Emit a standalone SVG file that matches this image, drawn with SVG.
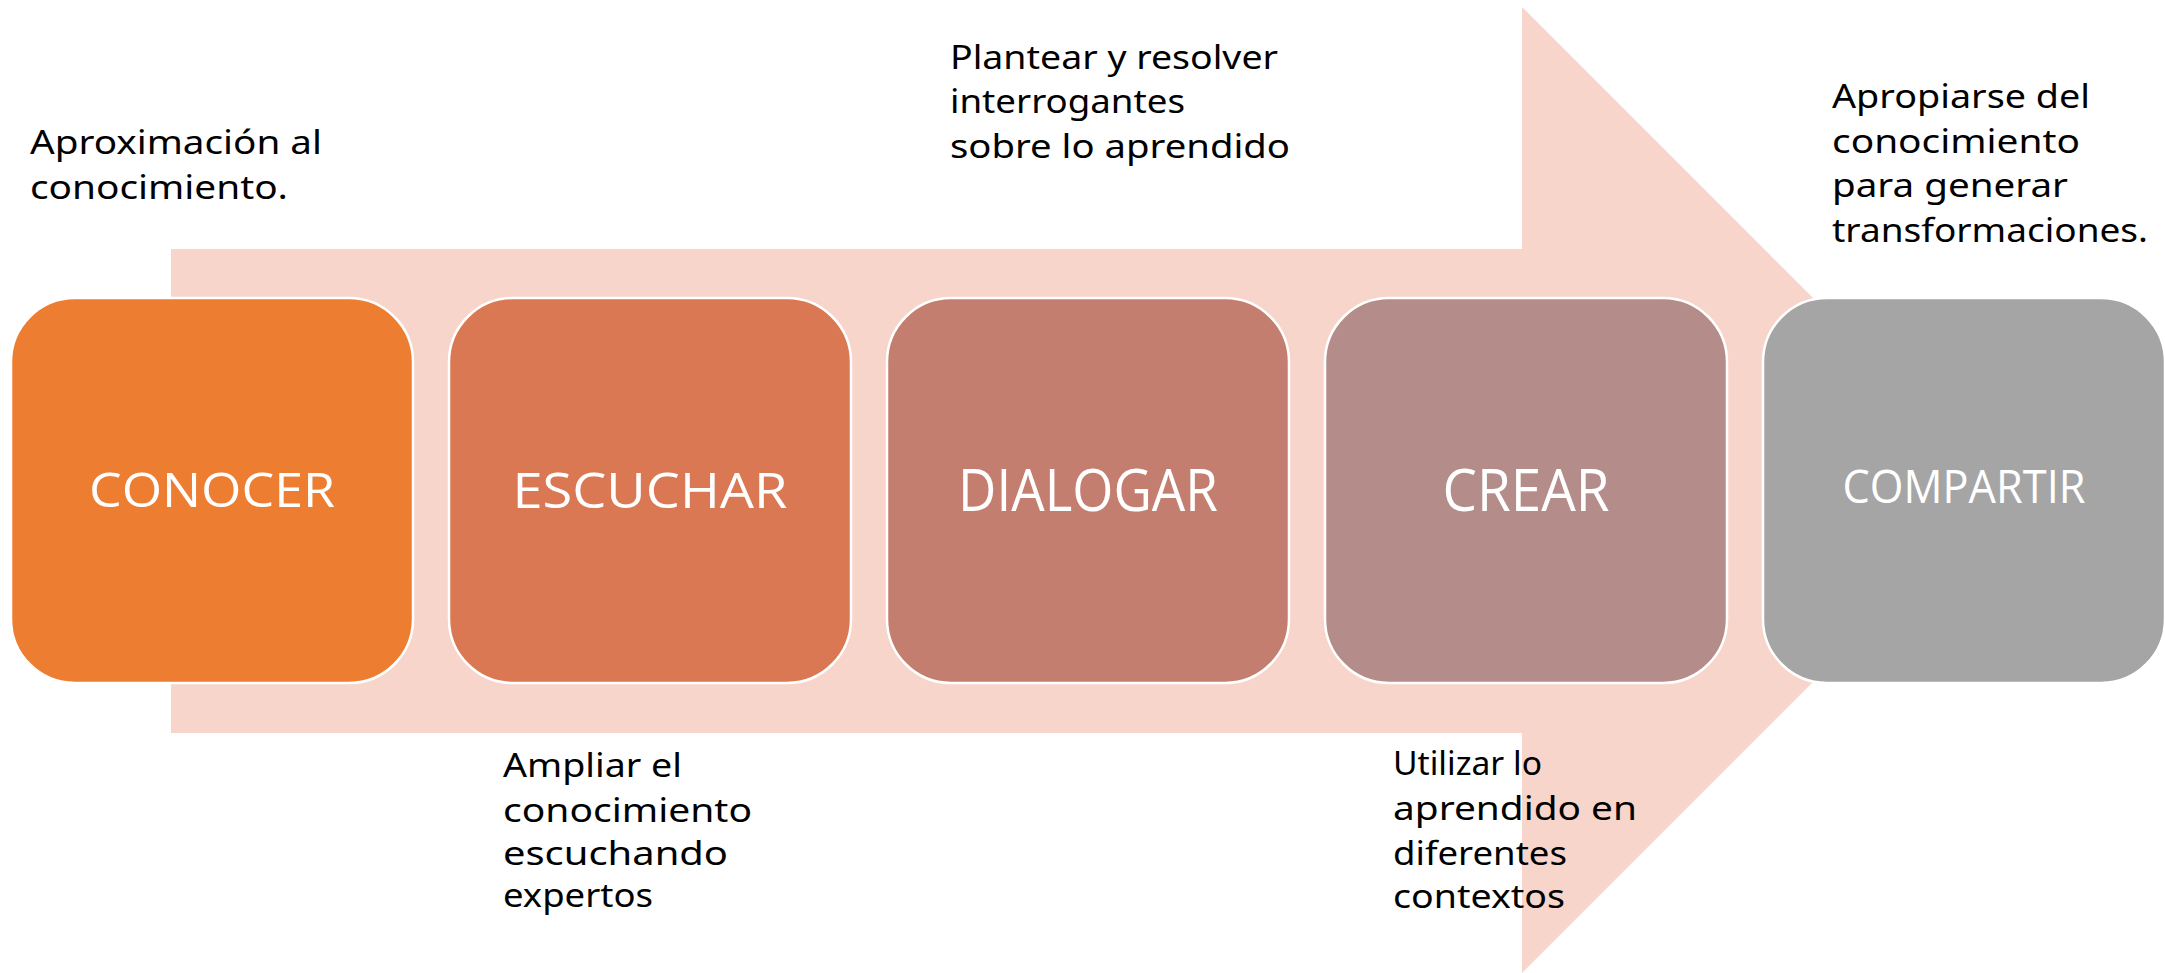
<svg xmlns="http://www.w3.org/2000/svg" width="2165" height="973" viewBox="0 0 2165 973">
<style>
.box{stroke:#ffffff;stroke-width:2.5}
.lbl{font-family:"Open Sans","Noto Sans",sans-serif;fill:#ffffff;text-anchor:middle}
.ann{font-family:"Noto Sans","Open Sans",sans-serif;font-size:32px;fill:#000000}
</style>
<rect width="2165" height="973" fill="#ffffff"/>
<g id="arrow">
<polygon points="171,249 1522,249 1522,7 2005,490 1522,973 1522,733 171,733" fill="#F7D5CA"/>
</g>
<g id="connectors"></g>
<g id="conocer">
<rect class="box" x="11" y="298" width="402" height="385" rx="64" fill="#ED7D31"/>
<text class="lbl" x="212" y="507" font-size="48" textLength="246" lengthAdjust="spacingAndGlyphs">CONOCER</text>
</g>
<g id="escuchar">
<rect class="box" x="449" y="298" width="402" height="385" rx="64" fill="#D97852"/>
<text class="lbl" x="650" y="508" font-size="50" textLength="275" lengthAdjust="spacingAndGlyphs">ESCUCHAR</text>
</g>
<g id="dialogar">
<rect class="box" x="887" y="298" width="402" height="385" rx="64" fill="#C47E6F"/>
<text class="lbl" x="1088" y="511" font-size="58" textLength="260" lengthAdjust="spacingAndGlyphs">DIALOGAR</text>
</g>
<g id="crear">
<rect class="box" x="1325" y="298" width="402" height="385" rx="64" fill="#B48D8A"/>
<text class="lbl" x="1526" y="511" font-size="58" textLength="167" lengthAdjust="spacingAndGlyphs">CREAR</text>
</g>
<g id="compartir">
<rect class="box" x="1763" y="298" width="402" height="385" rx="64" fill="#A5A5A5"/>
<text class="lbl" x="1964" y="503" font-size="45" textLength="243" lengthAdjust="spacingAndGlyphs">COMPARTIR</text>
</g>
<g id="note-conocer">
<text class="ann" x="30" y="154" textLength="292" lengthAdjust="spacingAndGlyphs">Aproximación al</text>
<text class="ann" x="30" y="199" textLength="258" lengthAdjust="spacingAndGlyphs">conocimiento.</text>
</g>
<g id="note-dialogar">
<text class="ann" x="950" y="69" textLength="328" lengthAdjust="spacingAndGlyphs">Plantear y resolver</text>
<text class="ann" x="950" y="113" textLength="235" lengthAdjust="spacingAndGlyphs">interrogantes</text>
<text class="ann" x="950" y="158" textLength="340" lengthAdjust="spacingAndGlyphs">sobre lo aprendido</text>
</g>
<g id="note-escuchar">
<text class="ann" x="503" y="777" textLength="179" lengthAdjust="spacingAndGlyphs">Ampliar el</text>
<text class="ann" x="503" y="822" textLength="249" lengthAdjust="spacingAndGlyphs">conocimiento</text>
<text class="ann" x="503" y="865" textLength="225" lengthAdjust="spacingAndGlyphs">escuchando</text>
<text class="ann" x="503" y="907" textLength="150" lengthAdjust="spacingAndGlyphs">expertos</text>
</g>
<g id="note-crear">
<text class="ann" x="1393" y="775" textLength="149" lengthAdjust="spacingAndGlyphs">Utilizar lo</text>
<text class="ann" x="1393" y="820" textLength="244" lengthAdjust="spacingAndGlyphs">aprendido en</text>
<text class="ann" x="1393" y="865" textLength="174" lengthAdjust="spacingAndGlyphs">diferentes</text>
<text class="ann" x="1393" y="908" textLength="172" lengthAdjust="spacingAndGlyphs">contextos</text>
</g>
<g id="note-compartir">
<text class="ann" x="1832" y="108" textLength="258" lengthAdjust="spacingAndGlyphs">Apropiarse del</text>
<text class="ann" x="1832" y="153" textLength="248" lengthAdjust="spacingAndGlyphs">conocimiento</text>
<text class="ann" x="1832" y="197" textLength="236" lengthAdjust="spacingAndGlyphs">para generar</text>
<text class="ann" x="1832" y="242" textLength="316" lengthAdjust="spacingAndGlyphs">transformaciones.</text>
</g>
</svg>
